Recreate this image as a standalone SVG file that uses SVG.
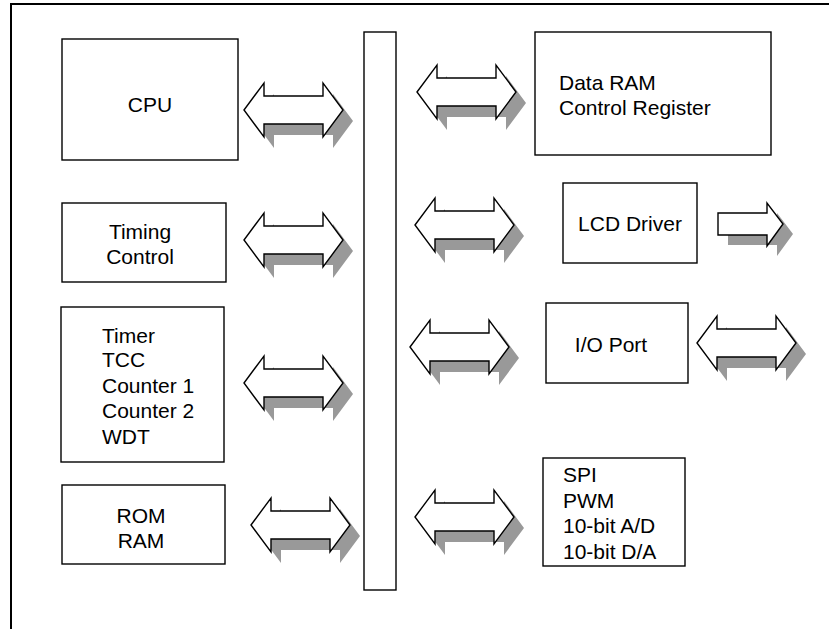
<svg xmlns="http://www.w3.org/2000/svg" xmlns:xlink="http://www.w3.org/1999/xlink" width="829" height="629" viewBox="0 0 829 629">
<style>
.box{fill:#fff;stroke:#000;stroke-width:1.4}
.frame{fill:none;stroke:#000;stroke-width:2}
.arr{fill:#fff;stroke:#000;stroke-width:1.4;stroke-linejoin:miter}
.shd{fill:#999;stroke:none}
text{font-family:"Liberation Sans",Arial,Helvetica,sans-serif;font-size:21px;fill:#000}
.c{text-anchor:middle}
</style>
<defs>
<path id="dbl" d="M0,0 L20,-27 L20,-14 L79,-14 L79,-27 L99,0 L79,27 L79,14 L20,14 L20,27 Z"/>
<path id="sgl" d="M0,-11 L49,-11 L49,-21 L65,0 L49,22 L49,11 L0,11 Z"/>
</defs>
<rect x="0" y="0" width="829" height="629" fill="#fff"/>
<path class="frame" d="M11,629 L11,4 L829,4"/>

<g id="connectors">
  <g id="a-cpu"><use xlink:href="#dbl" class="shd" transform="translate(254,121)"/><use xlink:href="#dbl" class="arr" transform="translate(244,110)"/></g>
  <g id="a-timing"><use xlink:href="#dbl" class="shd" transform="translate(254,251)"/><use xlink:href="#dbl" class="arr" transform="translate(244,240)"/></g>
  <g id="a-timer"><use xlink:href="#dbl" class="shd" transform="translate(254,394)"/><use xlink:href="#dbl" class="arr" transform="translate(244,383)"/></g>
  <g id="a-rom"><use xlink:href="#dbl" class="shd" transform="translate(261,536)"/><use xlink:href="#dbl" class="arr" transform="translate(251,525)"/></g>
  <g id="a-dataram"><use xlink:href="#dbl" class="shd" transform="translate(427,103)"/><use xlink:href="#dbl" class="arr" transform="translate(417,92)"/></g>
  <g id="a-lcd"><use xlink:href="#dbl" class="shd" transform="translate(425,236)"/><use xlink:href="#dbl" class="arr" transform="translate(415,225)"/></g>
  <g id="a-io"><use xlink:href="#dbl" class="shd" transform="translate(420,358)"/><use xlink:href="#dbl" class="arr" transform="translate(410,347)"/></g>
  <g id="a-spi"><use xlink:href="#dbl" class="shd" transform="translate(425,528)"/><use xlink:href="#dbl" class="arr" transform="translate(415,517)"/></g>
  <g id="a-io-out"><use xlink:href="#dbl" class="shd" transform="translate(707,354)"/><use xlink:href="#dbl" class="arr" transform="translate(697,343)"/></g>
  <g id="a-lcd-out"><use xlink:href="#sgl" class="shd" transform="translate(728,234)"/><use xlink:href="#sgl" class="arr" transform="translate(718,224)"/></g>
</g>

<g id="bus"><rect class="box" x="364" y="32" width="32" height="558"/></g>

<g id="cpu"><rect class="box" x="62" y="39" width="176" height="121"/><text class="c" x="150" y="112">CPU</text></g>
<g id="timing"><rect class="box" x="62" y="203" width="164" height="79"/><text class="c" x="140" y="239">Timing</text><text class="c" x="140" y="264">Control</text></g>
<g id="timer"><rect class="box" x="61" y="307" width="163" height="155"/>
<text x="102" y="343">Timer</text><text x="102" y="367">TCC</text><text x="102" y="393">Counter 1</text><text x="102" y="418">Counter 2</text><text x="102" y="444">WDT</text></g>
<g id="rom"><rect class="box" x="62" y="485" width="163" height="79"/><text class="c" x="141" y="523">ROM</text><text class="c" x="141" y="548">RAM</text></g>
<g id="dataram"><rect class="box" x="535" y="32" width="236" height="123"/><text x="559" y="90">Data RAM</text><text x="559" y="115">Control Register</text></g>
<g id="lcd"><rect class="box" x="563" y="183" width="134" height="80"/><text class="c" x="630" y="231">LCD Driver</text></g>
<g id="io"><rect class="box" x="546" y="303" width="142" height="80"/><text class="c" x="611" y="352">I/O Port</text></g>
<g id="spi"><rect class="box" x="543" y="458" width="142" height="108"/>
<text x="563" y="482">SPI</text><text x="563" y="508">PWM</text><text x="563" y="533">10-bit A/D</text><text x="563" y="559">10-bit D/A</text></g>
</svg>
